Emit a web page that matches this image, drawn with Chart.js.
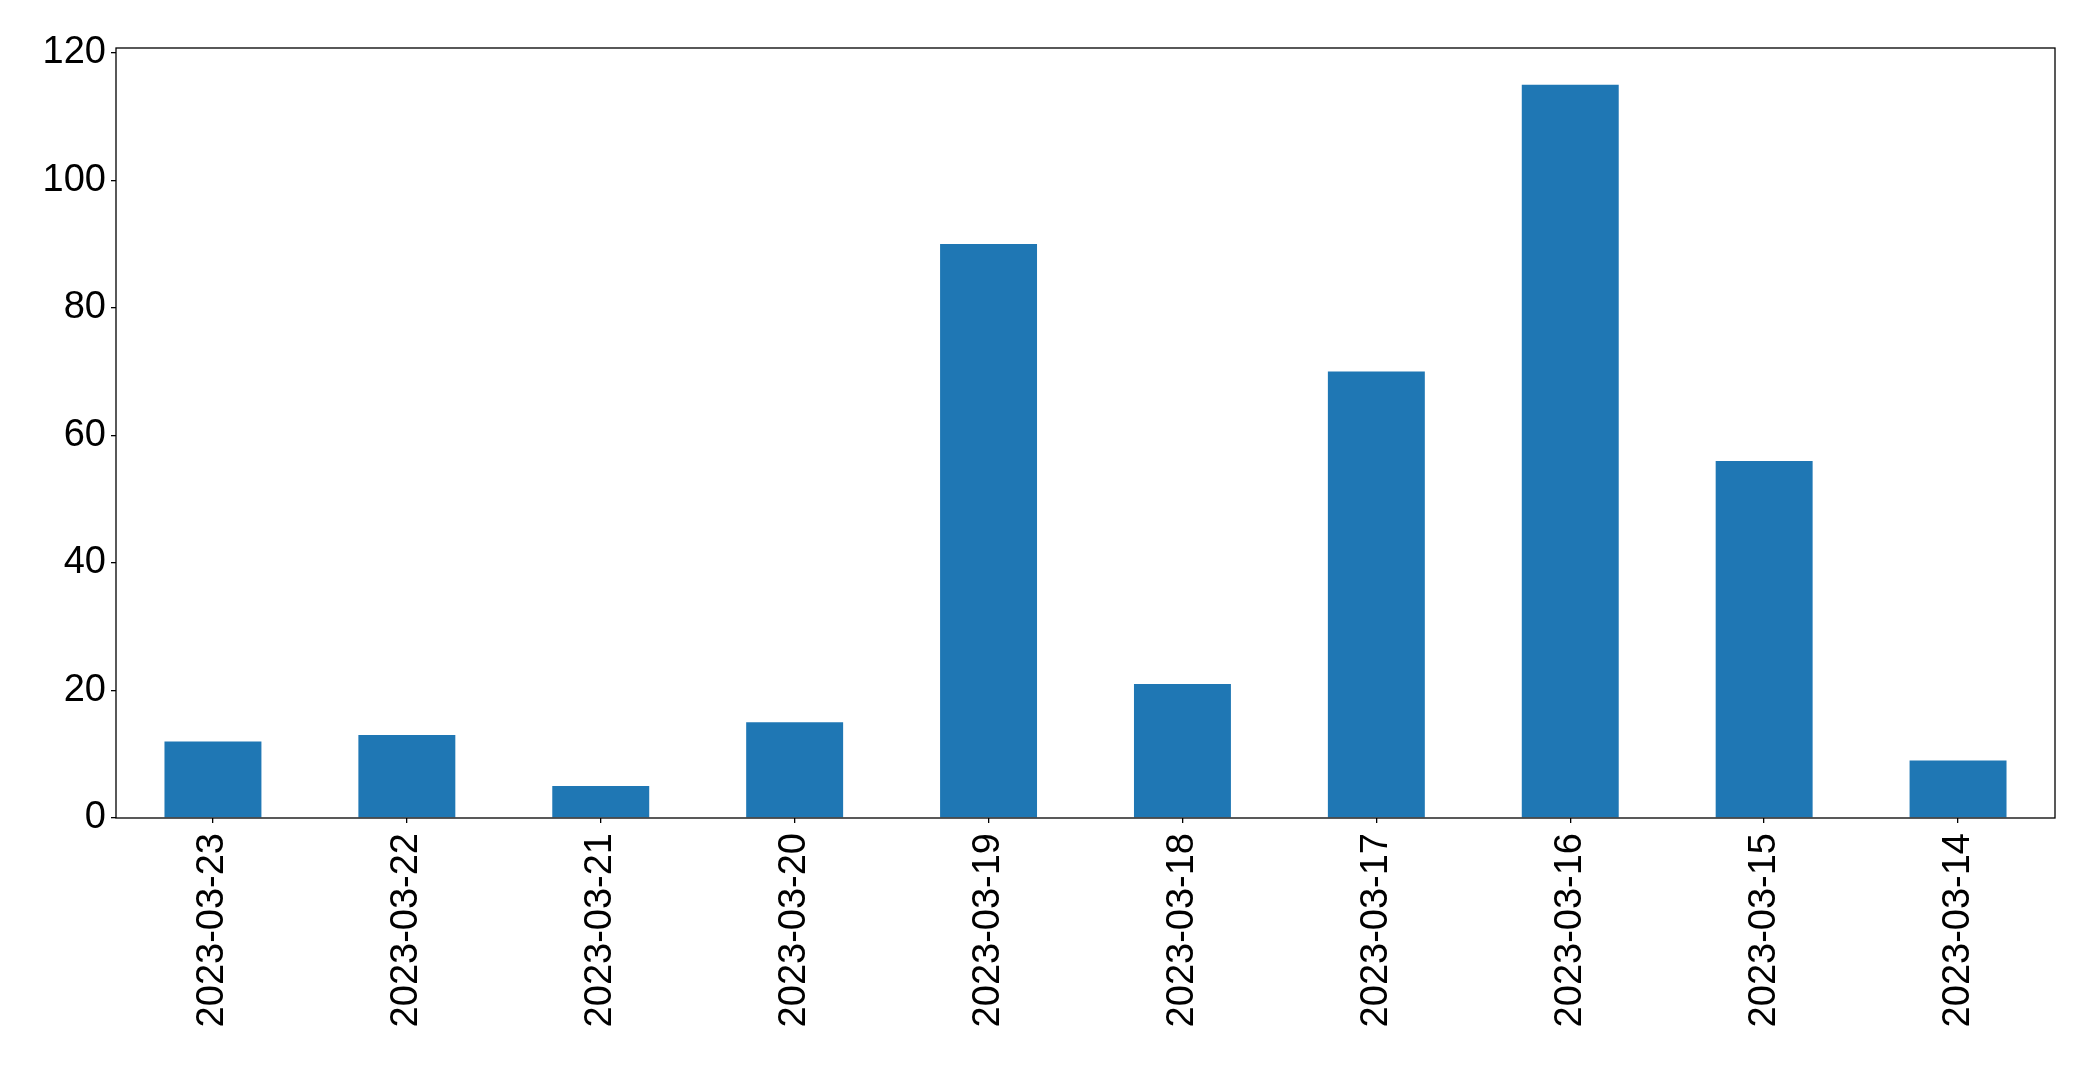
<!DOCTYPE html>
<html>
<head>
<meta charset="utf-8">
<script src="https://cdn.jsdelivr.net/npm/chart.js@4.4.0/dist/chart.umd.min.js"></script>
<style>
  html, body { margin: 0; padding: 0; background: #fff; }
  #wrap { width: 2093px; height: 1070px; }
</style>
</head>
<body>
<div id="wrap"><canvas id="chart"></canvas></div>
<script>
const dates = ["2023-03-23", "2023-03-22", "2023-03-21", "2023-03-20", "2023-03-19",
               "2023-03-18", "2023-03-17", "2023-03-16", "2023-03-15", "2023-03-14"];
const counts = [12, 13, 5, 15, 90, 21, 70, 115, 56, 9];
const yTicks = [0, 20, 40, 60, 80, 100, 120];

// frame round the plot area, like the matplotlib axes box
const frame = {
  id: "frame",
  afterDraw(chart) {
    const { ctx, chartArea: a } = chart;
    ctx.save();
    ctx.strokeStyle = "#000";
    ctx.lineWidth = 1.3;
    ctx.strokeRect(a.left, a.top, a.right - a.left, a.bottom - a.top);
    ctx.restore();
  }
};

new Chart(document.getElementById("chart"), {
  type: "bar",
  data: {
    labels: dates,
    datasets: [{
      data: counts,
      backgroundColor: "#1f77b4",
      barPercentage: 0.5,
      categoryPercentage: 1.0
    }]
  },
  options: {
    responsive: true,
    maintainAspectRatio: false,
    animation: false,
    layout: { padding: { top: 48, right: 38, left: 0, bottom: 0 } },
    plugins: { legend: { display: false }, tooltip: { enabled: false } },
    scales: {
      x: {
        grid: { offset: false, drawOnChartArea: false, drawTicks: true, tickLength: 5, color: "#000", lineWidth: 1.3 },
        border: { display: false },
        ticks: {
          color: "#000",
          font: { family: "Liberation Sans", size: 38 },
          minRotation: 90,
          maxRotation: 90,
          padding: 10
        },
        afterFit(scale) { scale.height = 252; }
      },
      y: {
        min: 0,
        max: 120.75,
        grid: { drawOnChartArea: false, drawTicks: true, tickLength: 5, color: "#000", lineWidth: 1.3 },
        border: { display: false },
        afterBuildTicks(scale) { scale.ticks = yTicks.map(v => ({ value: v })); },
        ticks: {
          color: "#000",
          font: { family: "Liberation Sans", size: 38 },
          padding: 5
        },
        afterFit(scale) { scale.width = 116; }
      }
    }
  },
  plugins: [frame]
});
</script>
</body>
</html>
